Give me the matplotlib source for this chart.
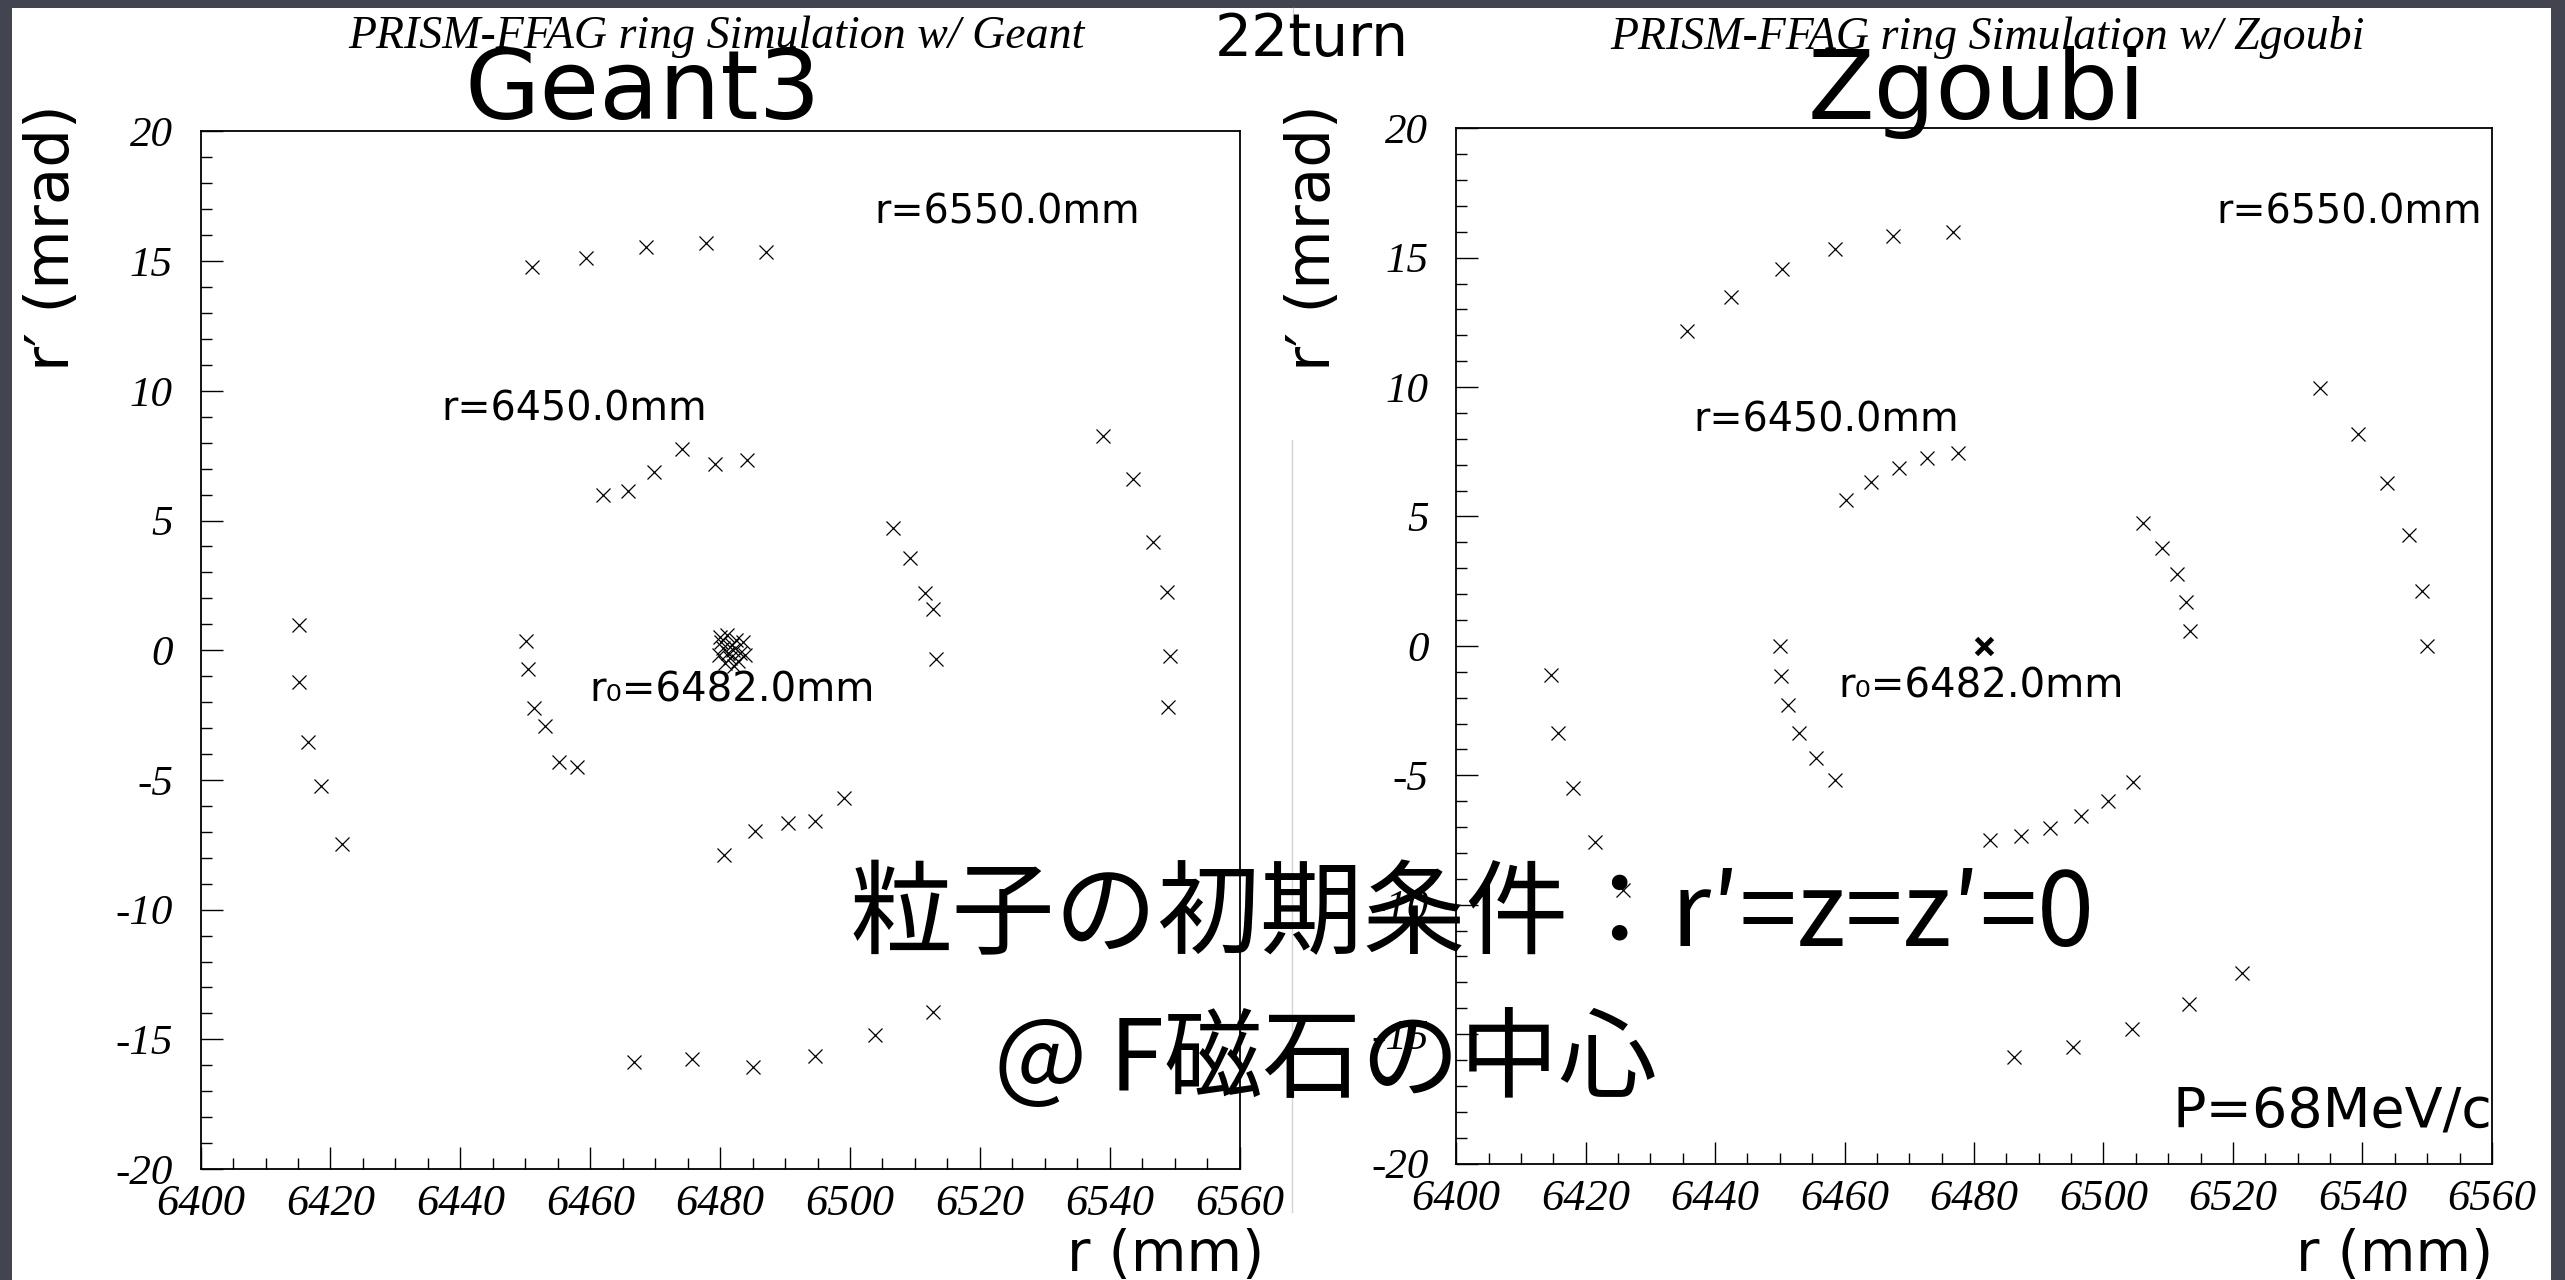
import matplotlib
matplotlib.use('Agg')
import matplotlib.pyplot as plt
from matplotlib.patches import Rectangle
from matplotlib.lines import Line2D
from matplotlib.ticker import MultipleLocator

plt.rcParams['font.family'] = ['DejaVu Sans']

# --- data: r (mm), r' (mrad) ---
geant_r = [6451.1, 6459.4, 6468.6, 6477.8, 6487.0,
           6461.9, 6465.8, 6469.8, 6474.2, 6479.2, 6484.1,
           6538.9, 6543.5, 6546.7, 6548.8, 6549.3, 6549.0,
           6506.6, 6509.3, 6511.5, 6512.8, 6513.3,
           6415.2, 6415.2, 6416.5, 6418.6, 6421.7,
           6450.1, 6450.4, 6451.3, 6453.0, 6455.2, 6458.0,
           6480.6, 6485.4, 6490.4, 6494.6, 6499.1,
           6466.7, 6475.7, 6485.0, 6494.6, 6503.8, 6512.8]
geant_rp = [14.78, 15.12, 15.56, 15.70, 15.34,
            6.00, 6.12, 6.86, 7.75, 7.18, 7.33,
            8.25, 6.59, 4.16, 2.24, -0.23, -2.20,
            4.71, 3.54, 2.22, 1.58, -0.33,
            0.99, -1.22, -3.53, -5.22, -7.48,
            0.35, -0.73, -2.22, -2.91, -4.29, -4.52,
            -7.90, -6.97, -6.66, -6.58, -5.68,
            -15.87, -15.75, -16.05, -15.64, -14.82, -13.93]

# cluster of particles near the reference orbit (Geant3)
cluster_r = [6480.0, 6481.0, 6482.5, 6483.5, 6480.5, 6482.0, 6483.0, 6479.8,
             6481.5, 6483.8, 6480.8, 6482.2, 6481.8, 6482.8, 6480.2, 6481.2]
cluster_rp = [0.5, 0.6, 0.4, 0.3, 0.1, 0.0, -0.1, -0.2,
              -0.3, -0.2, -0.5, -0.6, 0.2, -0.4, 0.3, -0.1]

zgoubi_r = [6435.7, 6442.5, 6450.4, 6458.6, 6467.5, 6476.7,
            6460.3, 6464.1, 6468.4, 6472.8, 6477.5,
            6533.5, 6539.3, 6543.8, 6547.2, 6549.2, 6549.9,
            6506.1, 6509.0, 6511.3, 6512.7, 6513.4,
            6450.1, 6450.2, 6451.3, 6453.0, 6455.6, 6458.5,
            6414.7, 6415.8, 6418.1, 6421.4, 6425.8,
            6482.4, 6487.2, 6491.8, 6496.5, 6500.7, 6504.5,
            6486.1, 6495.3, 6504.4, 6513.2, 6521.4]
zgoubi_rp = [12.18, 13.48, 14.55, 15.33, 15.82, 16.00,
             5.65, 6.34, 6.87, 7.26, 7.47,
             9.98, 8.20, 6.31, 4.27, 2.14, 0.0,
             4.73, 3.77, 2.76, 1.68, 0.57,
             0.0, -1.16, -2.28, -3.37, -4.32, -5.20,
             -1.13, -3.37, -5.48, -7.56, -9.42,
             -7.51, -7.36, -7.03, -6.56, -5.99, -5.25,
             -15.88, -15.49, -14.80, -13.82, -12.62]
zgoubi_center_r = [6481.6]
zgoubi_center_rp = [0.0]

x_ticks = [6400, 6420, 6440, 6460, 6480, 6500, 6520, 6540, 6560]
x_labels = ['6400', '6420', '6440', '6460', '6480', '6500', '6520', '6540', '6560']
y_ticks = [-20, -15, -10, -5, 0, 5, 10, 15, 20]
y_labels = ['-20', '-15', '-10', '-5', '0', '5', '10', '15', '20']

fig = plt.figure(figsize=(25.65, 12.8), dpi=100)
fig.patch.set_facecolor('#42444f')
# white slide area behind both plots
fig.patches.append(Rectangle((12 / 2565, 0), (2551 - 12) / 2565, 1 - 8 / 1280,
                             transform=fig.transFigure, facecolor='white',
                             edgecolor='none', zorder=-5))
fig.lines.append(Line2D([0.5037, 0.5037], [0.053, 0.656], transform=fig.transFigure,
                        color='#d2d3d8', lw=1.0, zorder=-4))
fig.lines.append(Line2D([0.5041, 0.5041], [0.965, 0.994], transform=fig.transFigure,
                        color='#d2d3d8', lw=1.0, zorder=-4))

ax1 = fig.add_axes([0.0782, 0.0867, 0.4051, 0.8106])
ax2 = fig.add_axes([0.5677, 0.0910, 0.4038, 0.8088])


def style(ax):
    ax.set_xlim(6400, 6560)
    ax.set_ylim(-20, 20)
    ax.set_xticks(x_ticks)
    ax.set_xticklabels(x_labels, family='Liberation Serif', style='italic', fontsize=32)
    ax.set_yticks(y_ticks)
    ax.set_yticklabels(y_labels, family='Liberation Serif', style='italic', fontsize=31)
    ax.xaxis.set_minor_locator(MultipleLocator(5))
    ax.yaxis.set_minor_locator(MultipleLocator(1))
    ax.tick_params(which='major', direction='in', length=16, width=1.0)
    ax.tick_params(which='minor', direction='in', length=8, width=1.0)
    ax.tick_params(axis='x', which='major', pad=11)
    ax.tick_params(axis='y', which='major', pad=20)
    for s in ax.spines.values():
        s.set_linewidth(1.3)
    ax.set_facecolor('white')


style(ax1)
style(ax2)

ax1.plot(geant_r, geant_rp, ls='none', marker='x', ms=10, mew=0.9, color='black')
ax1.plot(cluster_r, cluster_rp, ls='none', marker='x', ms=10, mew=0.9, color='black')
ax2.plot(zgoubi_r, zgoubi_rp, ls='none', marker='x', ms=10, mew=0.9, color='black')
ax2.plot(zgoubi_center_r, zgoubi_center_rp, ls='none', marker='x', ms=12, mew=3.5, color='black')

# in-plot annotations
ax1.text(6503.8, 16.86, 'r=6550.0mm', fontsize=28.5, va='center', ha='left')
ax1.text(6437.1, 9.29, 'r=6450.0mm', fontsize=28.5, va='center', ha='left')
ax1.text(6459.8, -1.54, 'r\u2080=6482.0mm', fontsize=29, va='center', ha='left')
ax2.text(6517.5, 16.75, 'r=6550.0mm', fontsize=28.5, va='center', ha='left')
ax2.text(6436.6, 8.72, 'r=6450.0mm', fontsize=28.5, va='center', ha='left')
ax2.text(6459.1, -1.58, 'r\u2080=6482.0mm', fontsize=29, va='center', ha='left')
ax2.text(6510.6, -18.02, 'P=68MeV/c', fontsize=40, va='center', ha='left')

# titles and labels
fig.text(0.2795, 0.971, 'PRISM-FFAG ring Simulation w/ Geant', family='Liberation Serif',
         style='italic', fontsize=33, ha='center', va='center')
fig.text(0.7747, 0.971, 'PRISM-FFAG ring Simulation w/ Zgoubi', family='Liberation Serif',
         style='italic', fontsize=33, ha='center', va='center')
fig.text(0.5115, 0.969, '22turn', fontsize=42, ha='center', va='center')
fig.text(0.2507, 0.928, 'Geant3', fontsize=70, ha='center', va='center')
fig.text(0.7708, 0.928, 'Zgoubi', fontsize=70, ha='center', va='center')

for xpos in (0.0203, 0.512):
    fig.text(xpos, 0.814, 'r\u2032 (mrad)', fontsize=44, rotation=90, ha='center', va='center')
fig.text(1264 / 2565, 0.0195, 'r (mm)', fontsize=41, ha='right', va='center')
fig.text(2493 / 2565, 0.0195, 'r (mm)', fontsize=41, ha='right', va='center')

jp = ['Noto Sans CJK JP', 'DejaVu Sans']
fig.text(0.574, 0.284, '粒子の初期条件：r\u2032=z=z\u2032=0', family=jp, fontsize=74,
         ha='center', va='center')
fig.text(0.5166, 0.170, '@ F磁石の中心', family=jp, fontsize=71, ha='center', va='center')

fig.savefig('out.png', dpi=100, facecolor=fig.get_facecolor())
